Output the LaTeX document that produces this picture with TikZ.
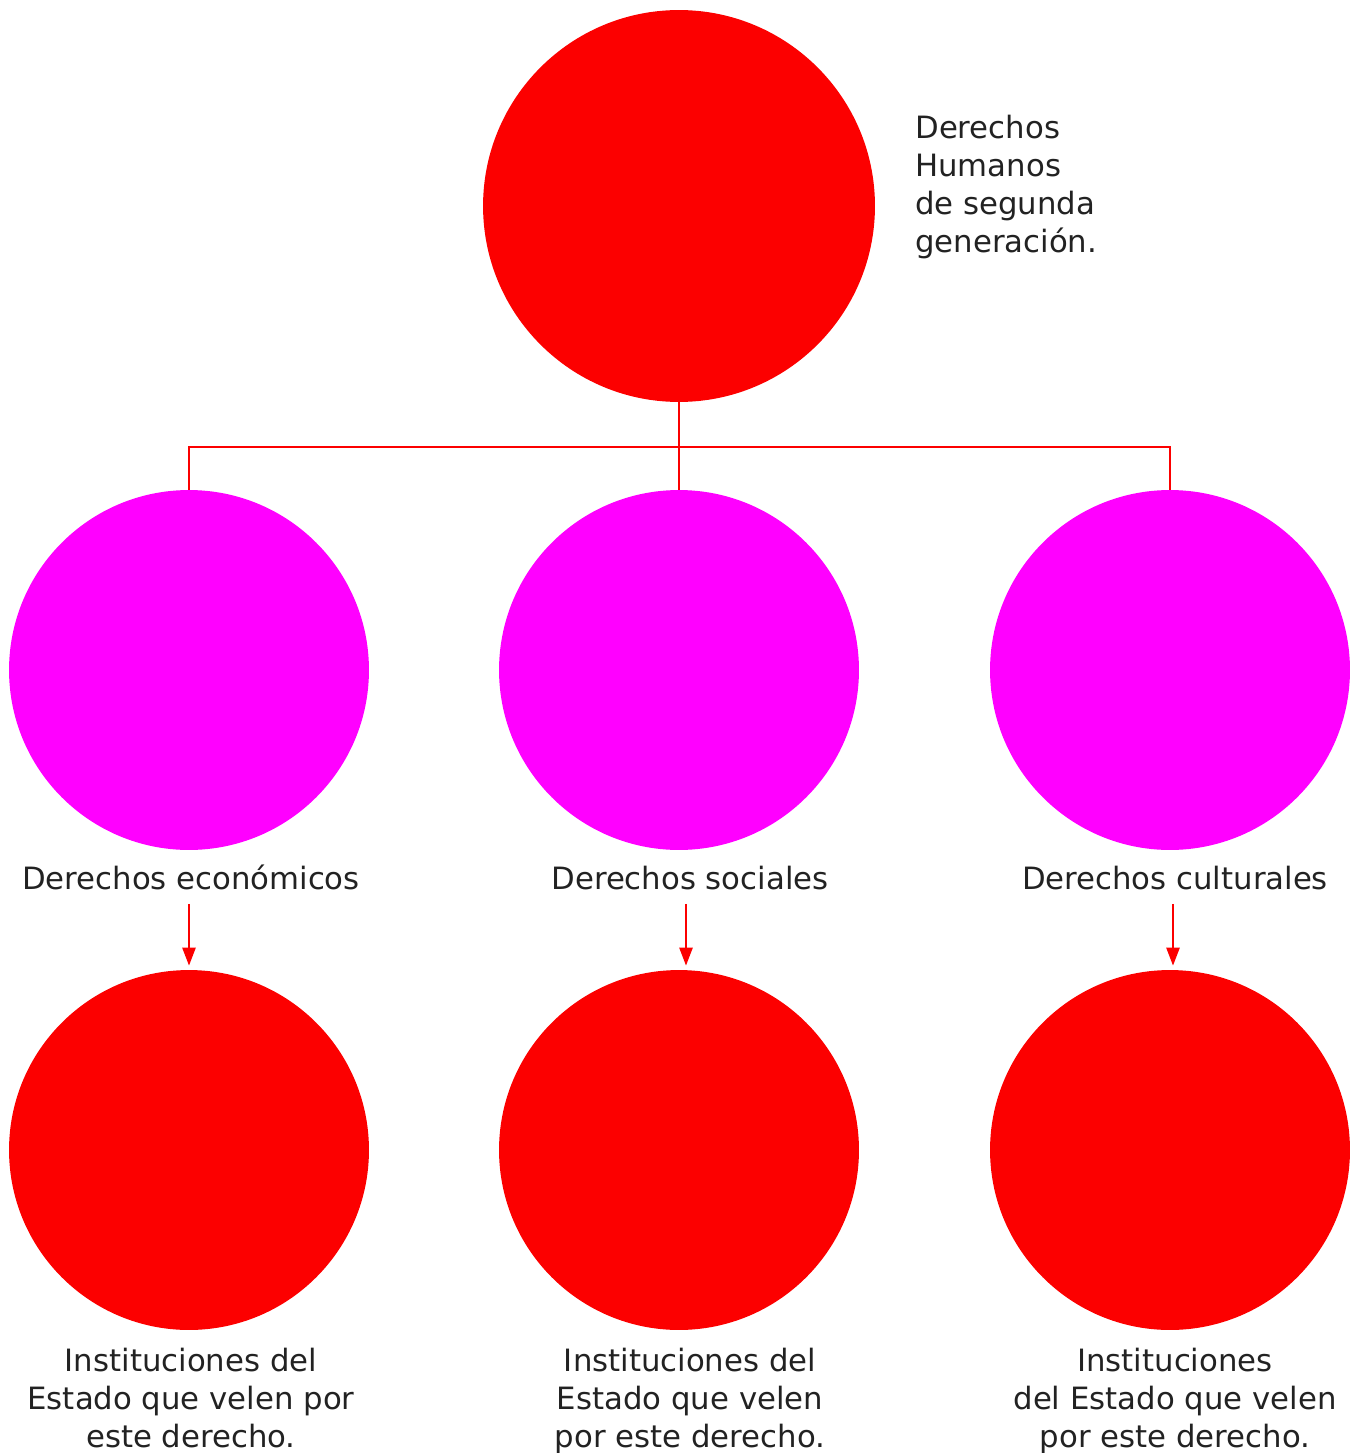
\documentclass[tikz,border=0pt]{standalone}
\usepackage{fontspec}
\setmainfont{DejaVu Sans}
\usetikzlibrary{arrows.meta}
\definecolor{rojo}{HTML}{FC0000}
\definecolor{magenta}{HTML}{FF00FF}
\definecolor{texto}{HTML}{222222}
\begin{document}
\begin{tikzpicture}[x=0.02cm, y=-0.02cm,
	big/.style={circle, fill=rojo, inner sep=0pt, minimum size=7.84cm},
	mid/.style={circle, fill=magenta, inner sep=0pt, minimum size=7.2cm},
	low/.style={circle, fill=rojo, inner sep=0pt, minimum size=7.2cm},
	lbl/.style={text=texto, inner sep=0pt, font=\fontsize{17.5}{21.6}\selectfont},
	link/.style={draw=rojo, line width=1.4pt},
	arr/.style={draw=rojo, line width=1.4pt, -{Triangle[length=0.36cm, width=0.26cm]}}]
	\useasboundingbox (0,0) rectangle (1354,1453);
	% circles
	\node[big] (top) at (679,206) {};
	\node[mid] (econ) at (189,670) {};
	\node[mid] (soc) at (679,670) {};
	\node[mid] (cult) at (1170,670) {};
	\node[low] (econI) at (189,1150) {};
	\node[low] (socI) at (679,1150) {};
	\node[low] (cultI) at (1170,1150) {};
	% texts
	\node[lbl, anchor=north west, align=left] (titulo) at (915,115) {Derechos\\Humanos\\de segunda\\generación.};
	\node[lbl, anchor=base] (econL) at (191,889) {Derechos económicos};
	\node[lbl, anchor=base] (socL) at (690,889) {Derechos sociales};
	\node[lbl, anchor=base] (cultL) at (1175,889) {Derechos culturales};
	\node[lbl, anchor=north, align=center] (econT) at (191,1348) {Instituciones del\\Estado que velen por\\este derecho.};
	\node[lbl, anchor=north, align=center] (socT) at (690,1348) {Instituciones del\\Estado que velen\\por este derecho.};
	\node[lbl, anchor=north, align=center] (cultT) at (1175,1348) {Instituciones\\del Estado que velen\\por este derecho.};
	% tree
	\coordinate (bus) at (679,447);
	\draw[link] (top.south) -- (soc.north);
	\draw[link] (econ.north) |- (bus);
	\draw[link] (cult.north) |- (bus);
	% arrows
	\draw[arr] ([xshift=-0.04cm, yshift=-0.28cm]econL.south) -- ([xshift=-0.04cm, yshift=0.08cm]econL.south |- econI.north);
	\draw[arr] ([xshift=-0.08cm, yshift=-0.28cm]socL.south) -- ([xshift=-0.08cm, yshift=0.08cm]socL.south |- socI.north);
	\draw[arr] ([xshift=-0.04cm, yshift=-0.28cm]cultL.south) -- ([xshift=-0.04cm, yshift=0.08cm]cultL.south |- cultI.north);
\end{tikzpicture}
\end{document}
